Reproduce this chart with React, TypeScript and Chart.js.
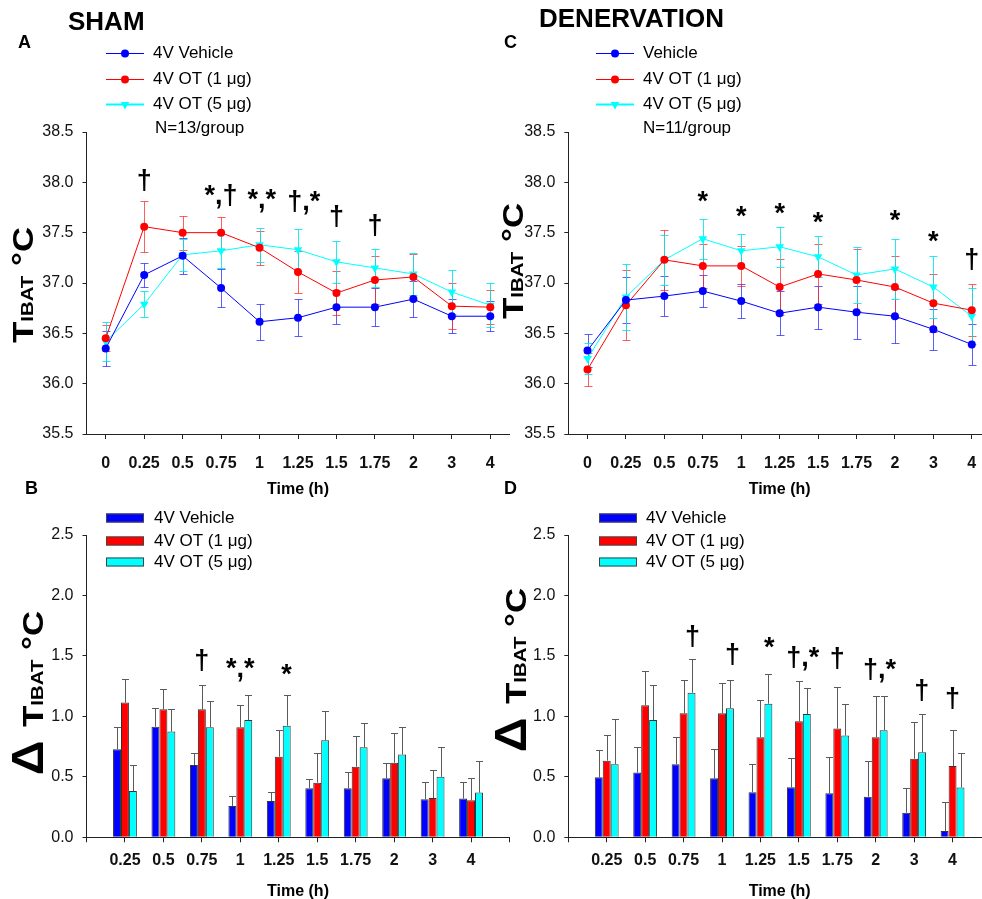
import React, { useEffect, useRef } from "react";
import { Chart, registerables } from "chart.js";
Chart.register(...registerables);

const FONT = "'Liberation Sans', Arial, Helvetica, sans-serif";
Chart.defaults.font.family = FONT;

// ---------- data ----------
const timeLabels = ["0", "0.25", "0.5", "0.75", "1", "1.25", "1.5", "1.75", "2", "3", "4"];
const barLabels = ["", "0.25", "0.5", "0.75", "1", "1.25", "1.5", "1.75", "2", "3", "4", ""];

// Panel A (SHAM, TIBAT)
const shamVehicle = [36.35, 37.08, 37.27, 36.95, 36.615, 36.655, 36.76, 36.76, 36.84, 36.67, 36.67];
const shamVehicleErr = [0.17, 0.12, 0.18, 0.19, 0.18, 0.185, 0.17, 0.19, 0.18, 0.17, 0.15];
const shamOT1 = [36.45, 37.56, 37.5, 37.5, 37.35, 37.11, 36.9, 37.03, 37.06, 36.77, 36.76];
const shamOT1Err = [0.13, 0.25, 0.17, 0.16, 0.17, 0.21, 0.22, 0.24, 0.23, 0.23, 0.17];
const shamOT5 = [36.42, 36.79, 37.28, 37.32, 37.38, 37.33, 37.21, 37.15, 37.09, 36.91, 36.78];
const shamOT5Err = [0.19, 0.13, 0.16, 0.17, 0.17, 0.21, 0.21, 0.19, 0.21, 0.22, 0.22];

// Panel C (DENERVATION, TIBAT)
const denVehicle = [36.33, 36.83, 36.87, 36.92, 36.82, 36.7, 36.76, 36.71, 36.67, 36.54, 36.39];
const denVehicleErr = [0.16, 0.23, 0.2, 0.155, 0.17, 0.22, 0.215, 0.265, 0.27, 0.205, 0.2];
const denOT1 = [36.14, 36.78, 37.23, 37.17, 37.17, 36.96, 37.09, 37.03, 36.96, 36.8, 36.73];
const denOT1Err = [0.16, 0.35, 0.3, 0.22, 0.2, 0.28, 0.3, 0.31, 0.31, 0.285, 0.26];
const denOT5 = [36.25, 36.86, 37.23, 37.44, 37.32, 37.36, 37.26, 37.08, 37.14, 36.96, 36.67];
const denOT5Err = [0.15, 0.33, 0.25, 0.2, 0.165, 0.2, 0.205, 0.275, 0.3, 0.305, 0.28];

// Panel B (SHAM, delta)
const shamDVehicle = [null, 0.728, 0.915, 0.598, 0.259, 0.3, 0.405, 0.405, 0.488, 0.314, 0.32, null];
const shamDVehicleErr = [null, 0.187, 0.152, 0.097, 0.086, 0.072, 0.075, 0.138, 0.124, 0.141, 0.14, null];
const shamDOT1 = [null, 1.114, 1.058, 1.058, 0.91, 0.667, 0.452, 0.584, 0.617, 0.325, 0.306, null];
const shamDOT1Err = [null, 0.192, 0.171, 0.202, 0.187, 0.221, 0.248, 0.256, 0.248, 0.232, 0.187, null];
const shamDOT5 = [null, 0.383, 0.874, 0.91, 0.97, 0.923, 0.802, 0.744, 0.684, 0.5, 0.37, null];
const shamDOT5Err = [null, 0.215, 0.184, 0.22, 0.21, 0.254, 0.245, 0.204, 0.226, 0.25, 0.264, null];

// Panel D (DENERVATION, delta)
const denDVehicle = [null, 0.496, 0.535, 0.604, 0.488, 0.372, 0.413, 0.364, 0.336, 0.204, 0.052, null];
const denDVehicleErr = [null, 0.226, 0.215, 0.223, 0.24, 0.237, 0.246, 0.298, 0.298, 0.207, 0.243, null];
const denDOT1 = [null, 0.634, 1.092, 1.025, 1.025, 0.827, 0.959, 0.899, 0.827, 0.65, 0.59, null];
const denDOT1Err = [null, 0.209, 0.286, 0.279, 0.254, 0.311, 0.331, 0.347, 0.344, 0.304, 0.298, null];
const denDOT5 = [null, 0.604, 0.97, 1.196, 1.067, 1.105, 1.02, 0.841, 0.885, 0.703, 0.411, null];
const denDOT5Err = [null, 0.374, 0.29, 0.276, 0.237, 0.248, 0.218, 0.264, 0.286, 0.317, 0.286, null];

// significance marks: text, category position, y (baseline, data units)
const sigAText = ["†", "*,†", "*,*", "†,*", "†", "†"];
const sigAPos = [1, 3, 4.06, 5.15, 6, 7];
const sigAY = [37.93, 37.78, 37.745, 37.725, 37.576, 37.487];

const sigCText = ["*", "*", "*", "*", "*", "*", "†"];
const sigCPos = [3, 4, 5, 6, 8, 9, 10];
const sigCY = [37.725, 37.576, 37.606, 37.517, 37.536, 37.33, 37.15];

const sigBText = ["†", "*,*", "*"];
const sigBPos = [3, 4, 5.2];
const sigBY = [1.39, 1.326, 1.276];

const sigDText = ["†", "†", "*", "†,*", "†", "†,*", "†", "†"];
const sigDPos = [3.23, 4.27, 5.23, 6.1, 7, 8.1, 9.2, 10];
const sigDY = [1.59, 1.44, 1.5, 1.417, 1.41, 1.318, 1.144, 1.078];

const BLUE = "#0000ff";
const RED = "#ff0000";
const CYAN = "#00ffff";

// ---------- drawing helpers ----------
type Seg = { t: string; s: number; sx?: number };

function drawRotatedTitle(ctx: CanvasRenderingContext2D, bx: number, cy: number, segs: Seg[]) {
  ctx.save();
  ctx.fillStyle = "#000";
  ctx.textBaseline = "alphabetic";
  ctx.textAlign = "left";
  const widths = segs.map((g) => {
    ctx.font = `bold ${g.s}px ${FONT}`;
    return ctx.measureText(g.t).width * (g.sx || 1);
  });
  const total = widths.reduce((a, b) => a + b, 0);
  ctx.translate(bx, cy);
  ctx.rotate(-Math.PI / 2);
  let x = -total / 2;
  segs.forEach((g, k) => {
    ctx.save();
    ctx.font = `bold ${g.s}px ${FONT}`;
    ctx.translate(x, 0);
    ctx.scale(g.sx || 1, 1);
    ctx.fillText(g.t, 0, 0);
    ctx.restore();
    x += widths[k];
  });
  ctx.restore();
}

function drawMarker(ctx: CanvasRenderingContext2D, style: string, x: number, y: number, r: number, color: string) {
  ctx.save();
  ctx.fillStyle = color;
  ctx.beginPath();
  if (style === "triangle") {
    ctx.moveTo(x, y + r);
    ctx.lineTo(x - r * 0.866, y - r * 0.5);
    ctx.lineTo(x + r * 0.866, y - r * 0.5);
    ctx.closePath();
  } else {
    ctx.arc(x, y, r, 0, Math.PI * 2);
  }
  ctx.fill();
  ctx.restore();
}

const decoPlugin = {
  id: "deco",
  beforeDatasetsDraw(chart: any, _a: any, o: any) {
    if (o.mode !== "line") return;
    const ctx = chart.ctx as CanvasRenderingContext2D;
    const ys = chart.scales.y;
    chart.data.datasets.forEach((ds: any, di: number) => {
      const meta = chart.getDatasetMeta(di);
      ctx.save();
      ctx.strokeStyle = ds.errColor;
      ctx.lineWidth = 1;
      meta.data.forEach((el: any, i: number) => {
        const v = ds.data[i];
        const e = ds.errors[i];
        if (v == null) return;
        const x = Math.round(el.x) + 0.5;
        const t = Math.round(ys.getPixelForValue(v + e)) + 0.5;
        const b = Math.round(ys.getPixelForValue(v - e)) + 0.5;
        ctx.beginPath();
        ctx.moveTo(x, t);
        ctx.lineTo(x, b);
        ctx.moveTo(x - 4, t);
        ctx.lineTo(x + 4, t);
        ctx.moveTo(x - 4, b);
        ctx.lineTo(x + 4, b);
        ctx.stroke();
      });
      ctx.restore();
    });
  },
  afterDatasetsDraw(chart: any, _a: any, o: any) {
    const ctx = chart.ctx as CanvasRenderingContext2D;
    const xs = chart.scales.x;
    const ys = chart.scales.y;
    if (o.mode === "bar") {
      chart.data.datasets.forEach((ds: any, di: number) => {
        const meta = chart.getDatasetMeta(di);
        ctx.save();
        ctx.strokeStyle = "#5a5a5a";
        ctx.lineWidth = 1;
        meta.data.forEach((el: any, i: number) => {
          const v = ds.data[i];
          const e = ds.errors[i];
          if (v == null) return;
          const x = Math.round(el.x) + 0.5;
          const t = Math.round(ys.getPixelForValue(v + e)) + 0.5;
          const b = ys.getPixelForValue(v);
          const hw = el.width / 2 - 0.5;
          ctx.beginPath();
          ctx.moveTo(x, b);
          ctx.lineTo(x, t);
          ctx.moveTo(x - hw, t);
          ctx.lineTo(x + hw, t);
          ctx.stroke();
        });
        ctx.restore();
      });
    }
    // significance marks
    ctx.save();
    ctx.fillStyle = "#000";
    ctx.font = `bold 27px ${FONT}`;
    ctx.textAlign = "center";
    ctx.textBaseline = "alphabetic";
    o.sigText.forEach((t: string, k: number) => {
      ctx.fillText(t, xs.getPixelForValue(o.sigPos[k]), ys.getPixelForValue(o.sigY[k]));
    });
    ctx.restore();
  },
  afterDraw(chart: any, _a: any, o: any) {
    const ctx = chart.ctx as CanvasRenderingContext2D;
    const ca = chart.chartArea;
    ctx.save();
    ctx.fillStyle = "#000";
    // panel title and letter
    ctx.textBaseline = "middle";
    ctx.textAlign = "left";
    ctx.font = `bold 26px ${FONT}`;
    if (o.title) ctx.fillText(o.title, o.titleX, o.titleY);
    ctx.font = `bold 18px ${FONT}`;
    ctx.fillText(o.letter, o.letterX, o.letterY);
    // x axis title
    ctx.textAlign = "center";
    ctx.font = `bold 16px ${FONT}`;
    ctx.fillText("Time (h)", (ca.left + ca.right) / 2, ca.bottom + o.xTitleDy);
    // legend
    const L = o.legend;
    ctx.textAlign = "left";
    chart.data.datasets.forEach((ds: any, k: number) => {
      const y = L.ys[k];
      if (o.mode === "line") {
        ctx.save();
        ctx.strokeStyle = ds.borderColor;
        ctx.lineWidth = ds.legendLineWidth || 1;
        ctx.beginPath();
        ctx.moveTo(L.x1, y + 0.5);
        ctx.lineTo(L.x2, y + 0.5);
        ctx.stroke();
        ctx.restore();
        drawMarker(ctx, ds.pointStyle, (L.x1 + L.x2) / 2, y + 0.5, ds.pointStyle === "triangle" ? 5 : 4, ds.borderColor);
      } else {
        ctx.save();
        ctx.fillStyle = ds.backgroundColor;
        ctx.fillRect(L.x1, y - 4.5, L.x2 - L.x1, 9);
        ctx.strokeStyle = "#444";
        ctx.lineWidth = 1;
        ctx.strokeRect(L.x1 + 0.5, y - 4.5 + 0.5, L.x2 - L.x1 - 1, 8);
        ctx.restore();
      }
      ctx.fillStyle = "#000";
      ctx.font = `17px ${FONT}`;
      ctx.fillText(ds.label, L.tx, y);
    });
    if (L.note) {
      ctx.font = `17px ${FONT}`;
      ctx.fillText(L.note, L.noteX, L.noteY);
    }
    ctx.restore();
    // y axis title
    drawRotatedTitle(ctx, o.yTitleX, o.yTitleY, o.yTitle);
  },
};

const axisColor = "#222";

function xScale(mode: string, afterH: number, pad: number) {
  return {
    type: "category",
    offset: mode === "line",
    grid: { offset: false, drawOnChartArea: false, drawTicks: true, tickLength: 5, tickColor: axisColor, lineWidth: 1 },
    border: { display: true, color: axisColor, width: 1 },
    ticks: { font: { size: 16, weight: "bold" }, color: "#111", padding: pad, maxRotation: 0, autoSkip: false },
    afterFit: (s: any) => {
      s.height = afterH;
    },
  };
}

function yScale(min: number, max: number, width: number) {
  return {
    min,
    max,
    ticks: {
      stepSize: 0.5,
      callback: (v: any) => Number(v).toFixed(1),
      font: { size: 16 },
      color: "#111",
      padding: 9,
    },
    grid: { drawOnChartArea: false, drawTicks: true, tickLength: 4, tickColor: axisColor, lineWidth: 1 },
    border: { display: true, color: axisColor, width: 1 },
    afterFit: (s: any) => {
      s.width = width;
    },
  };
}

function lineDatasets(first: string, v: number[], ve: number[], a: number[], ae: number[], b: number[], be: number[]) {
  return [
    {
      label: first, data: v, errors: ve, borderColor: BLUE, backgroundColor: BLUE, errColor: "rgba(40,40,255,0.75)",
      borderWidth: 1, pointRadius: 4, pointStyle: "circle", pointBorderWidth: 0, tension: 0,
    },
    {
      label: "4V OT (1 μg)", data: a, errors: ae, borderColor: RED, backgroundColor: RED, errColor: "rgba(255,40,40,0.75)",
      borderWidth: 1, pointRadius: 4, pointStyle: "circle", pointBorderWidth: 0, tension: 0,
    },
    {
      label: "4V OT (5 μg)", data: b, errors: be, borderColor: CYAN, backgroundColor: CYAN, errColor: "rgba(0,230,240,0.85)",
      borderWidth: 1, pointRadius: 5, pointStyle: "triangle", pointRotation: 180, pointBorderWidth: 0, tension: 0,
      legendLineWidth: 2,
    },
  ];
}

function barDatasets(v: any[], ve: any[], a: any[], ae: any[], b: any[], be: any[]) {
  const common = { borderColor: "#333", borderWidth: 1, categoryPercentage: 0.62, barPercentage: 1.0 };
  return [
    { label: "4V Vehicle", data: v, errors: ve, backgroundColor: BLUE, ...common },
    { label: "4V OT (1 μg)", data: a, errors: ae, backgroundColor: RED, ...common },
    { label: "4V OT (5 μg)", data: b, errors: be, backgroundColor: CYAN, ...common },
  ];
}

const SX = 1.2;
const tibat: Seg[] = [
  { t: "T", s: 29, sx: SX },
  { t: "IBAT", s: 17, sx: SX },
  { t: " °C", s: 29, sx: SX },
];
const dtibat: Seg[] = [{ t: "Δ ", s: 44, sx: 1.1 }, ...tibat];

function makeConfig(p: string): any {
  const base = {
    responsive: false,
    animation: false,
    events: [],
    plugins: { legend: { display: false }, tooltip: { enabled: false } },
  };
  if (p === "A" || p === "C") {
    const isA = p === "A";
    return {
      type: "line",
      data: {
        labels: timeLabels,
        datasets: isA
          ? lineDatasets("4V Vehicle", shamVehicle, shamVehicleErr, shamOT1, shamOT1Err, shamOT5, shamOT5Err)
          : lineDatasets("Vehicle", denVehicle, denVehicleErr, denOT1, denOT1Err, denOT5, denOT5Err),
      },
      options: {
        ...base,
        layout: { padding: isA ? { left: 0, top: 132, right: 490.5, bottom: 425 } : { left: 491, top: 132, right: 9, bottom: 425 } },
        scales: { x: xScale("line", 40, 15), y: yScale(35.5, 38.5, isA ? 86.5 : 77.3) },
        plugins: {
          ...base.plugins,
          deco: {
            mode: "line",
            title: isA ? "SHAM" : "DENERVATION",
            titleX: isA ? 68 : 539,
            titleY: isA ? 22.5 : 20,
            letter: p,
            letterX: isA ? 18 : 504,
            letterY: 43.5,
            xTitleDy: 56,
            legend: isA
              ? { x1: 106, x2: 144, tx: 153, ys: [53, 79, 104], note: "N=13/group", noteX: 155, noteY: 128 }
              : { x1: 596, x2: 634, tx: 643, ys: [53, 79, 104], note: "N=11/group", noteX: 643, noteY: 128 },
            sigText: isA ? sigAText : sigCText,
            sigPos: isA ? sigAPos : sigCPos,
            sigY: isA ? sigAY : sigCY,
            yTitle: tibat,
            yTitleX: isA ? 33 : 523,
            yTitleY: isA ? 285 : 261,
          },
        },
      },
      plugins: [decoPlugin],
    };
  }
  const isB = p === "B";
  return {
    type: "bar",
    data: {
      labels: barLabels,
      datasets: isB
        ? barDatasets(shamDVehicle, shamDVehicleErr, shamDOT1, shamDOT1Err, shamDOT5, shamDOT5Err)
        : barDatasets(denDVehicle, denDVehicleErr, denDOT1, denDOT1Err, denDOT5, denDOT5Err),
    },
    options: {
      ...base,
      layout: { padding: isB ? { left: 0, top: 535, right: 490.5, bottom: 21.7 } : { left: 491, top: 535, right: 9, bottom: 21.7 } },
      scales: { x: xScale("bar", 40, 9), y: yScale(0, 2.5, isB ? 86.5 : 77.3) },
      plugins: {
        ...base.plugins,
        deco: {
          mode: "bar",
          title: "",
          titleX: 0,
          titleY: 0,
          letter: p,
          letterX: isB ? 25 : 504,
          letterY: 489.5,
          xTitleDy: 54,
          legend: isB ? { x1: 106, x2: 144, tx: 154, ys: [518, 541, 562] } : { x1: 599, x2: 637, tx: 646, ys: [518, 541, 562] },
          sigText: isB ? sigBText : sigDText,
          sigPos: isB ? sigBPos : sigDPos,
          sigY: isB ? sigBY : sigDY,
          yTitle: dtibat,
          yTitleX: isB ? 43 : 526,
          yTitleY: isB ? 693 : 670,
        },
      },
    },
    plugins: [decoPlugin],
  };
}

function Panel({ id }: { id: string }) {
  const ref = useRef<HTMLCanvasElement | null>(null);
  useEffect(() => {
    if (!ref.current) return;
    const chart = new Chart(ref.current, makeConfig(id));
    return () => chart.destroy();
  }, [id]);
  return (
    <canvas
      ref={ref}
      width={1000}
      height={899}
      style={{ position: "absolute", left: 0, top: 0, width: 1000, height: 899 }}
    />
  );
}

export default function App() {
  return (
    <div
      style={{
        position: "absolute",
        left: 0,
        top: 0,
        width: 982,
        height: 899,
        overflow: "hidden",
        background: "#fff",
      }}
    >
      <Panel id="A" />
      <Panel id="B" />
      <Panel id="C" />
      <Panel id="D" />
    </div>
  );
}
